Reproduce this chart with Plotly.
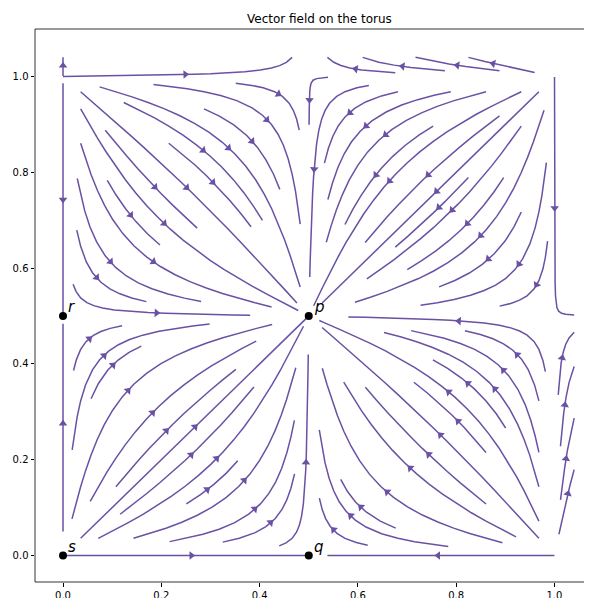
import numpy as np
import plotly.graph_objects as go

# ---------------- data ----------------
# sampling grid of the vector field on the torus (0 .. 1.05)
grid_x = np.arange(0.0, 1.05, 0.01)
grid_y = np.arange(0.0, 1.05, 0.01)

# fixed points of the flow
point_names = ["p", "q", "r", "s"]
point_x = [0.5, 0.5, 0.0, 0.0]
point_y = [0.5, 0.0, 0.5, 0.0]

tick_vals = [0.0, 0.2, 0.4, 0.6, 0.8, 1.0]
tick_text = ["0.0", "0.2", "0.4", "0.6", "0.8", "1.0"]

title_text = "Vector field on the torus"
line_color = "#6a51a3"

# vector field (gradient-like flow on the torus)
GX, GY = np.meshgrid(grid_x, grid_y)
U = np.sin(2 * np.pi * GX)
V = np.sin(2 * np.pi * GY)


# ---------------- streamline integration (matplotlib-style) ----------------
class _OOB(Exception):
    pass


class _Term(Exception):
    pass


class _Invalid(Exception):
    pass


def compute_streamlines(x, y, u, v, density=1.0, minlength=0.1, maxlength=4.0):
    nx, ny = len(x), len(y)
    gdx = x[1] - x[0]
    gdy = y[1] - y[0]
    mnx = int(30 * density)
    mny = int(30 * density)
    mask = np.zeros((mny, mnx))
    gx2m = (mnx - 1) / (nx - 1)
    gy2m = (mny - 1) / (ny - 1)
    ug = u / gdx
    vg = v / gdy
    speed = np.sqrt((ug / (nx - 1)) ** 2 + (vg / (ny - 1)) ** 2)
    st = {"traj": [], "cur": None}

    def within(xi, yi):
        return 0 <= xi <= nx - 1 and 0 <= yi <= ny - 1

    def interp(a, xi, yi):
        xx = int(xi)
        yy = int(yi)
        xn = xx if xx == nx - 1 else xx + 1
        yn = yy if yy == ny - 1 else yy + 1
        xt = xi - xx
        yt = yi - yy
        a0 = a[yy, xx] * (1 - xt) + a[yy, xn] * xt
        a1 = a[yn, xx] * (1 - xt) + a[yn, xn] * xt
        return a0 * (1 - yt) + a1 * yt

    def g2m(xi, yi):
        return round(xi * gx2m), round(yi * gy2m)

    def upd_mask(xm, ym):
        if st["cur"] != (xm, ym):
            if mask[ym, xm] == 0:
                st["traj"].append((ym, xm))
                mask[ym, xm] = 1
                st["cur"] = (xm, ym)
            else:
                raise _Invalid

    def make_f(sign):
        def f(xi, yi):
            if not within(xi, yi):
                raise _OOB
            ds_dt = interp(speed, xi, yi)
            if ds_dt == 0:
                raise _Term
            dt_ds = 1.0 / ds_dt
            return sign * interp(ug, xi, yi) * dt_ds, sign * interp(vg, xi, yi) * dt_ds
        return f

    ff = make_f(1.0)
    fb = make_f(-1.0)

    def euler(traj, f):
        xi, yi = traj[-1]
        cx, cy = f(xi, yi)
        if cx == 0:
            dsx = np.inf
        elif cx < 0:
            dsx = xi / -cx
        else:
            dsx = (nx - 1 - xi) / cx
        if cy == 0:
            dsy = np.inf
        elif cy < 0:
            dsy = yi / -cy
        else:
            dsy = (ny - 1 - yi) / cy
        ds = min(dsx, dsy)
        traj.append((xi + cx * ds, yi + cy * ds))
        return ds, traj

    def rk12(x0, y0, f):
        maxerror = 0.003
        maxds = min(1.0 / mnx, 1.0 / mny, 0.1)
        ds = maxds
        stotal = 0.0
        xi, yi = x0, y0
        traj = []
        while True:
            try:
                if within(xi, yi):
                    traj.append((xi, yi))
                else:
                    raise _OOB
                k1x, k1y = f(xi, yi)
                k2x, k2y = f(xi + ds * k1x, yi + ds * k1y)
            except _OOB:
                if traj:
                    d, traj = euler(traj, f)
                    stotal += d
                break
            except _Term:
                break
            dx1 = ds * k1x
            dy1 = ds * k1y
            dx2 = ds * 0.5 * (k1x + k2x)
            dy2 = ds * 0.5 * (k1y + k2y)
            error = np.hypot((dx2 - dx1) / (nx - 1), (dy2 - dy1) / (ny - 1))
            if error < maxerror:
                xi += dx2
                yi += dy2
                try:
                    if not within(xi, yi):
                        raise _Invalid
                    xm, ym = g2m(xi, yi)
                    upd_mask(xm, ym)
                except _Invalid:
                    break
                if stotal + ds > maxlength:
                    break
                stotal += ds
            if error == 0:
                ds = maxds
            else:
                ds = min(maxds, 0.85 * ds * (maxerror / error) ** 0.5)
        return stotal, traj

    def integrate(x0, y0):
        st["traj"] = []
        try:
            xm, ym = g2m(x0, y0)
            upd_mask(xm, ym)
        except _Invalid:
            return None
        stotal = 0.0
        xy = []
        s, t = rk12(x0, y0, fb)
        stotal += s
        xy += t[::-1]
        st["cur"] = g2m(x0, y0)
        s, t = rk12(x0, y0, ff)
        stotal += s
        xy += t[1:]
        if stotal > minlength:
            return np.array(xy)
        for (a, b) in st["traj"]:
            mask[a, b] = 0
        return None

    def seeds(shape):
        sny, snx = shape
        xfirst, yfirst, xlast, ylast = 0, 1, snx - 1, sny - 1
        sx, sy = 0, 0
        direction = "right"
        for _ in range(snx * sny):
            yield sx, sy
            if direction == "right":
                sx += 1
                if sx >= xlast:
                    xlast -= 1
                    direction = "up"
            elif direction == "up":
                sy += 1
                if sy >= ylast:
                    ylast -= 1
                    direction = "left"
            elif direction == "left":
                sx -= 1
                if sx <= xfirst:
                    xfirst += 1
                    direction = "down"
            elif direction == "down":
                sy -= 1
                if sy <= yfirst:
                    yfirst += 1
                    direction = "right"

    out = []
    for xm, ym in seeds(mask.shape):
        if mask[ym, xm] == 0:
            t = integrate(xm / gx2m, ym / gy2m)
            if t is not None and len(t) > 1:
                tx = x[0] + t[:, 0] * gdx
                ty = y[0] + t[:, 1] * gdy
                out.append((tx, ty))
    return out


lines = compute_streamlines(grid_x, grid_y, U, V)

# ---------------- layout geometry ----------------
# (the page body has an 8px margin, so the figure is offset by 8px)
W, H = 584, 590
ML, MR, MT, MB = 27, 0, 21, 16
x_range = [-0.0570, 1.0763]
y_range = [-0.0553, 1.0992]
px_per_x = (W - ML - MR) / (x_range[1] - x_range[0])
px_per_y = (H - MT - MB) / (y_range[1] - y_range[0])

lx, ly = [], []
ax_, ay_, aang = [], [], []
for tx, ty in lines:
    lx.extend(tx.tolist() + [None])
    ly.extend(ty.tolist() + [None])
    s = np.cumsum(np.hypot(np.diff(tx), np.diff(ty)))
    n = int(np.searchsorted(s, s[-1] / 2.0))
    tail = (tx[n], ty[n])
    head = (np.mean(tx[n:n + 2]), np.mean(ty[n:n + 2]))
    dxp = (head[0] - tail[0]) * px_per_x
    dyp = (head[1] - tail[1]) * px_per_y
    ang = np.degrees(np.arctan2(dxp, dyp))
    ax_.append(head[0])
    ay_.append(head[1])
    aang.append(ang)

fig = go.Figure()
fig.add_trace(go.Scatter(
    x=lx, y=ly, mode="lines",
    line=dict(color=line_color, width=1.5),
    hoverinfo="skip", showlegend=False,
))
fig.add_trace(go.Scatter(
    x=ax_, y=ay_, mode="markers",
    marker=dict(symbol="triangle-up", size=7.5, angle=aang, color=line_color,
                line=dict(width=0)),
    hoverinfo="skip", showlegend=False,
))
fig.add_trace(go.Scatter(
    x=point_x, y=point_y, mode="markers",
    marker=dict(symbol="circle", size=8, color="black"),
    hoverinfo="skip", showlegend=False,
))
for name, px_, py_ in zip(point_names, point_x, point_y):
    fig.add_annotation(
        x=px_ + 0.01, y=py_ + 0.01, xref="x", yref="y",
        text="<i>%s</i>" % name, showarrow=False,
        xanchor="left", yanchor="bottom", yshift=-7, xshift=-2,
        font=dict(family="DejaVu Sans", size=15, color="black"),
    )

fig.add_annotation(
    x=(311 - ML) / (W - ML - MR), y=1.0, xref="paper", yref="paper",
    yshift=1, text=title_text, showarrow=False,
    xanchor="center", yanchor="bottom",
    font=dict(family="DejaVu Sans", size=12, color="black"),
)

frame = dict(color="black", width=0.8)
fig.add_shape(type="line", xref="paper", yref="paper", x0=0, x1=0, y0=0, y1=1, line=frame)
fig.add_shape(type="line", xref="paper", yref="paper", x0=0, x1=1, y0=1, y1=1, line=frame)
fig.add_shape(type="line", xref="paper", yref="paper", x0=0, x1=1, y0=0, y1=0, line=frame)

axis_common = dict(
    showgrid=False, zeroline=False, showline=False,
    ticks="outside", ticklen=3.5, tickwidth=0.8, tickcolor="black",
    tickfont=dict(family="DejaVu Sans", size=10, color="black"),
    tickvals=tick_vals, ticktext=tick_text, automargin=False,
)
fig.update_xaxes(range=x_range, **axis_common)
fig.update_yaxes(range=y_range, **axis_common)
fig.update_layout(
    width=W, height=H,
    margin=dict(l=ML, r=MR, t=MT, b=MB, pad=0),
    paper_bgcolor="white", plot_bgcolor="white",
    showlegend=False,
)
fig.write_html("out.html", config={"displayModeBar": False})
